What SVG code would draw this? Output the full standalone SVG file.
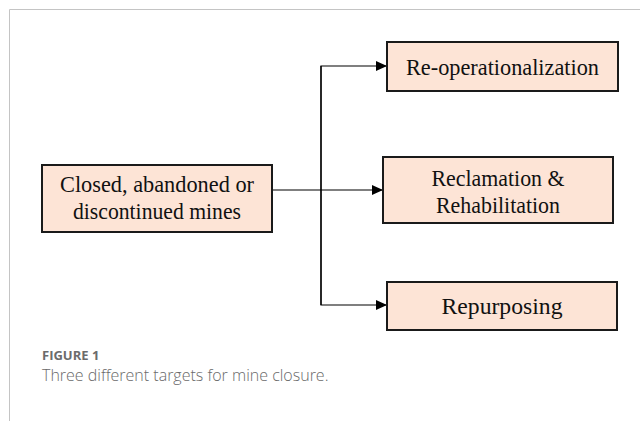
<svg xmlns="http://www.w3.org/2000/svg" width="640" height="421" viewBox="0 0 640 421">
<style>
.box{fill:#fde4d6;stroke:#1a1a1a;stroke-width:2}
.lbl{font-family:"Liberation Serif","Times New Roman",serif;font-size:24px;fill:#111;text-anchor:middle}
.conn{fill:none;stroke:#000;stroke-width:1.2}
.cap1{font-family:"Open Sans",sans-serif;font-size:13px;font-weight:700;fill:#6b6b6b}
.cap2{font-family:"Open Sans",sans-serif;font-size:16px;font-weight:300;fill:#6a6a6a}
</style>
<defs>
<marker id="arr" markerWidth="12" markerHeight="10" refX="11" refY="5" orient="auto" markerUnits="userSpaceOnUse">
<path d="M0,0 L11,5 L0,10 Z" fill="#000"/>
</marker>
</defs>
<rect width="640" height="421" fill="#fff"/>
<path d="M9.5,421 V9.5 H640" fill="none" stroke="#c4c4c4" stroke-width="1"/>
<g id="connectors">
<line class="conn" x1="272" y1="190" x2="383" y2="190" marker-end="url(#arr)"/>
<path class="conn" d="M321,305 V66 H387" marker-end="url(#arr)"/>
<path class="conn" d="M321,66 V305 H387" marker-end="url(#arr)"/>
</g>
<g id="source">
<rect class="box" x="42" y="165" width="230" height="67"/>
<text class="lbl" x="157" y="192" textLength="194" lengthAdjust="spacingAndGlyphs">Closed, abandoned or</text>
<text class="lbl" x="157" y="219" textLength="168" lengthAdjust="spacingAndGlyphs">discontinued mines</text>
</g>
<g id="reop">
<rect class="box" x="387" y="42" width="231" height="49"/>
<text class="lbl" x="502.5" y="75" textLength="193" lengthAdjust="spacingAndGlyphs">Re-operationalization</text>
</g>
<g id="reclamation">
<rect class="box" x="383" y="157" width="230" height="66"/>
<text class="lbl" x="498" y="186" textLength="133" lengthAdjust="spacingAndGlyphs">Reclamation &amp;</text>
<text class="lbl" x="498" y="213" textLength="124" lengthAdjust="spacingAndGlyphs">Rehabilitation</text>
</g>
<g id="repurposing">
<rect class="box" x="387" y="282" width="230" height="48"/>
<text class="lbl" x="502" y="314" textLength="121" lengthAdjust="spacingAndGlyphs">Repurposing</text>
</g>
<g id="caption">
<text class="cap1" x="42" y="360">FIGURE 1</text>
<text class="cap2" x="42" y="381">Three different targets for mine closure.</text>
</g>
</svg>
